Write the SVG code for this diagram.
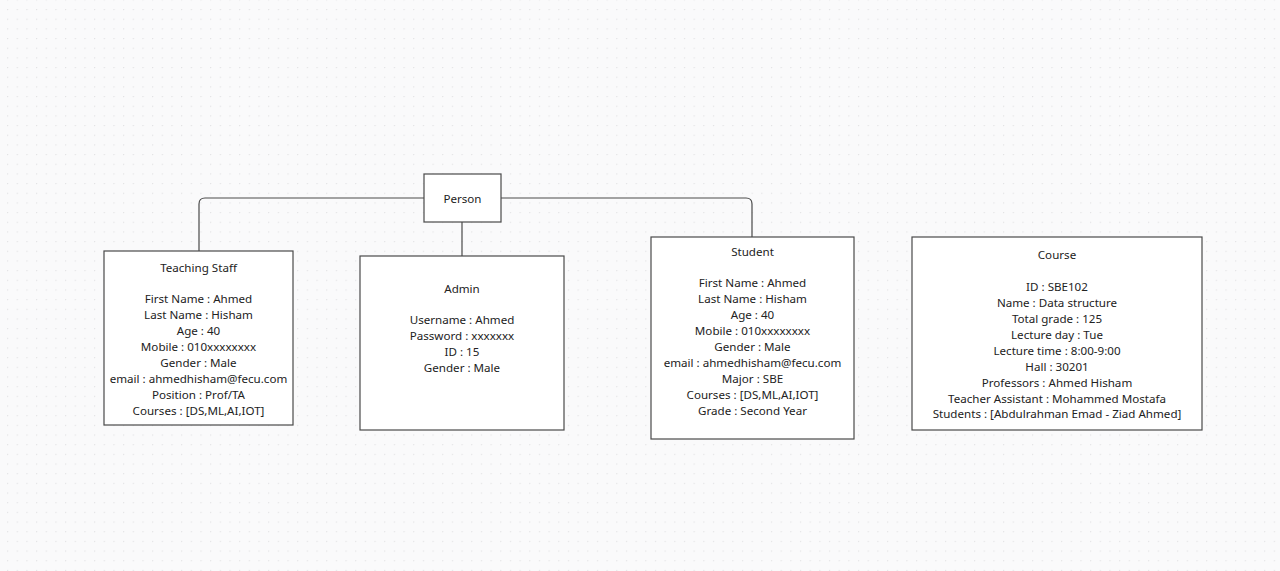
<svg xmlns="http://www.w3.org/2000/svg" width="1280" height="571" viewBox="0 0 1280 571">
  <defs>
    <pattern id="dots" x="7" y="9" width="9.67" height="9.67" patternUnits="userSpaceOnUse">
      <circle cx="0.6" cy="0.6" r="0.7" fill="#e2e2e4"/>
    </pattern>
    <style>
      .box { fill: #ffffff; stroke: #4a4a4a; stroke-width: 1.2; }
      .wire { fill: none; stroke: #4a4a4a; stroke-width: 1.2; }
      text { font-family: "Noto Sans", "Open Sans", sans-serif; font-size: 11.6px; fill: #222222; text-anchor: middle; }
    </style>
  </defs>

  <!-- canvas -->
  <rect width="1280" height="571" fill="#fafafb"/>
  <rect width="1280" height="571" fill="url(#dots)"/>

  <!-- connectors -->
  <g id="connectors">
    <path class="wire" d="M424 198 H205 Q199 198 199 204 V251"/>
    <path class="wire" d="M501 198 H746 Q752 198 752 204 V237"/>
    <path class="wire" d="M462 222 V256"/>
  </g>

  <!-- Person -->
  <g id="person">
    <rect class="box" x="424" y="174" width="77" height="48"/>
    <text x="462.5" y="203">Person</text>
  </g>

  <!-- Teaching Staff -->
  <g id="teaching-staff">
    <rect class="box" x="104" y="251" width="189" height="174"/>
    <text x="198.5" y="272">Teaching Staff</text>
    <text x="198.5" y="303">First Name : Ahmed</text>
    <text x="198.5" y="319">Last Name : Hisham</text>
    <text x="198.5" y="335">Age : 40</text>
    <text x="198.5" y="351">Mobile : 010xxxxxxxx</text>
    <text x="198.5" y="367">Gender : Male</text>
    <text x="198.5" y="383">email : ahmedhisham@fecu.com</text>
    <text x="198.5" y="399">Position : Prof/TA</text>
    <text x="198.5" y="415">Courses : [DS,ML,AI,IOT]</text>
  </g>

  <!-- Admin -->
  <g id="admin">
    <rect class="box" x="360" y="256" width="204" height="174"/>
    <text x="462" y="293">Admin</text>
    <text x="462" y="324">Username : Ahmed</text>
    <text x="462" y="340">Password : xxxxxxx</text>
    <text x="462" y="356">ID : 15</text>
    <text x="462" y="372">Gender : Male</text>
  </g>

  <!-- Student -->
  <g id="student">
    <rect class="box" x="651" y="237" width="203" height="202"/>
    <text x="752.5" y="256">Student</text>
    <text x="752.5" y="287">First Name : Ahmed</text>
    <text x="752.5" y="303">Last Name : Hisham</text>
    <text x="752.5" y="319">Age : 40</text>
    <text x="752.5" y="335">Mobile : 010xxxxxxxx</text>
    <text x="752.5" y="351">Gender : Male</text>
    <text x="752.5" y="367">email : ahmedhisham@fecu.com</text>
    <text x="752.5" y="383">Major : SBE</text>
    <text x="752.5" y="399">Courses : [DS,ML,AI,IOT]</text>
    <text x="752.5" y="415">Grade : Second Year</text>
  </g>

  <!-- Course -->
  <g id="course">
    <rect class="box" x="912" y="237" width="290" height="193"/>
    <text x="1057" y="259">Course</text>
    <text x="1057" y="291">ID : SBE102</text>
    <text x="1057" y="307">Name : Data structure</text>
    <text x="1057" y="323">Total grade : 125</text>
    <text x="1057" y="339">Lecture day : Tue</text>
    <text x="1057" y="355">Lecture time : 8:00-9:00</text>
    <text x="1057" y="371">Hall : 30201</text>
    <text x="1057" y="387">Professors : Ahmed Hisham</text>
    <text x="1057" y="403">Teacher Assistant : Mohammed Mostafa</text>
    <text x="1057" y="418">Students : [Abdulrahman Emad - Ziad Ahmed]</text>
  </g>
</svg>
